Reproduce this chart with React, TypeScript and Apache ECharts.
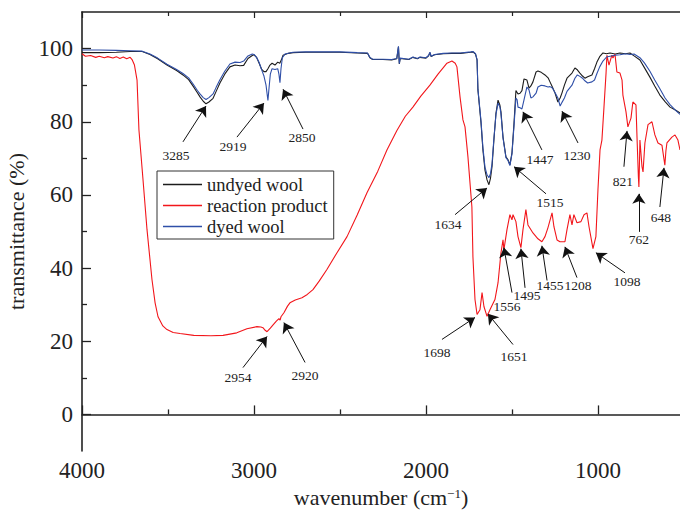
import React, { useEffect, useRef } from 'react';
import * as echarts from 'echarts';

// ---- data (wavenumber in cm^-1, transmittance in %) ----
const undyedWavenumber = [4000, 3900, 3800, 3720, 3650, 3605, 3560, 3506, 3450, 3413, 3380, 3355, 3330, 3314, 3295, 3279, 3262, 3238, 3220, 3198, 3170, 3140, 3110, 3081, 3060, 3035, 3010, 3000, 2985, 2970, 2955, 2942, 2930, 2919, 2907, 2895, 2878, 2862, 2850, 2840, 2831, 2800, 2773, 2700, 2600, 2500, 2400, 2340, 2326, 2310, 2250, 2200, 2170, 2160, 2155, 2150, 2100, 2076, 2050, 2035, 2000, 1985, 1977, 1970, 1950, 1900, 1850, 1800, 1740, 1727, 1712, 1703, 1698, 1680, 1669, 1657, 1645, 1634, 1625, 1616, 1605, 1593, 1581, 1570, 1564, 1552, 1535, 1523, 1512, 1500, 1488, 1477, 1470, 1465, 1453, 1442, 1430, 1413, 1401, 1390, 1378, 1360, 1349, 1330, 1308, 1290, 1279, 1265, 1250, 1233, 1220, 1209, 1195, 1180, 1151, 1134, 1120, 1105, 1090, 1076, 1060, 1035, 1020, 1006, 990, 971, 950, 930, 900, 872, 840, 814, 790, 756, 730, 698, 670, 640, 610, 581, 550, 523];
const undyedTransmittance = [98.9, 98.9, 99.0, 99.2, 99.2, 98.4, 97.2, 95.5, 94.0, 92.8, 91.5, 89.8, 88.0, 86.8, 85.6, 84.9, 85.4, 86.4, 88.3, 90.6, 93.0, 95.0, 95.5, 95.3, 95.4, 97.3, 98.1, 98.3, 97.6, 96.0, 94.3, 93.7, 93.7, 94.5, 95.5, 96.0, 95.5, 96.3, 96.0, 97.0, 98.2, 98.7, 98.9, 99.0, 99.0, 99.0, 98.8, 98.7, 97.5, 97.0, 97.0, 96.9, 97.2, 100.5, 95.8, 97.3, 97.0, 97.6, 97.2, 97.6, 97.4, 98.0, 98.9, 97.8, 98.3, 98.6, 98.7, 98.7, 99.0, 99.1, 98.5, 96.9, 88.7, 79.7, 72.3, 66.8, 64.1, 62.8, 64.5, 67.7, 75.0, 82.4, 85.9, 84.5, 82.7, 75.8, 70.4, 69.6, 68.2, 71.5, 79.7, 88.5, 88.0, 87.6, 87.8, 88.5, 91.7, 91.4, 89.2, 89.8, 90.9, 93.6, 93.9, 93.5, 92.8, 92.0, 90.9, 89.5, 87.9, 85.4, 86.5, 87.9, 90.0, 91.9, 93.3, 94.7, 94.2, 93.3, 92.5, 91.9, 92.3, 92.8, 94.5, 96.3, 97.8, 98.8, 98.6, 98.8, 98.5, 98.8, 98.6, 98.8, 98.0, 96.9, 94.8, 92.2, 89.8, 87.3, 85.5, 84.0, 83.2, 82.4];

const productWavenumber = [4000, 3980, 3950, 3920, 3900, 3870, 3850, 3820, 3800, 3780, 3760, 3740, 3720, 3709, 3695, 3680, 3669, 3645, 3622, 3593, 3575, 3558, 3530, 3506, 3470, 3430, 3350, 3250, 3180, 3100, 3041, 2983, 2960, 2948, 2935, 2924, 2905, 2889, 2870, 2855, 2848, 2843, 2826, 2805, 2791, 2760, 2721, 2690, 2657, 2620, 2576, 2520, 2459, 2400, 2343, 2280, 2227, 2169, 2120, 2076, 2030, 1977, 1930, 1878, 1849, 1830, 1820, 1802, 1785, 1773, 1756, 1733, 1727, 1715, 1703, 1686, 1674, 1663, 1645, 1628, 1599, 1581, 1564, 1552, 1547, 1529, 1512, 1500, 1494, 1477, 1465, 1448, 1436, 1419, 1407, 1378, 1349, 1326, 1308, 1291, 1267, 1256, 1238, 1221, 1192, 1180, 1163, 1151, 1140, 1122, 1099, 1081, 1064, 1052, 1035, 1029, 1012, 1000, 988, 977, 965, 953, 948, 936, 919, 913, 901, 890, 872, 860, 855, 837, 826, 808, 797, 779, 773, 765, 762, 759, 756, 744, 738, 727, 709, 686, 669, 651, 628, 620, 611, 605, 599, 570, 552, 535, 523];
const productTransmittance = [98.6, 97.9, 98.1, 97.6, 97.9, 97.5, 97.8, 97.4, 97.8, 97.3, 97.7, 97.2, 97.6, 97.0, 95.5, 91.4, 77.8, 64.0, 50.5, 36.8, 30.5, 26.7, 24.2, 23.2, 22.4, 22.1, 21.6, 21.5, 21.6, 22.3, 23.4, 24.0, 23.9, 23.7, 23.0, 22.6, 23.6, 24.5, 25.5, 26.2, 25.8, 26.7, 27.8, 29.6, 30.5, 31.3, 31.9, 32.8, 34.1, 36.5, 39.6, 44.0, 48.6, 54.5, 60.6, 66.5, 72.3, 77.6, 81.5, 84.0, 87.0, 90.0, 93.0, 96.0, 96.6, 96.0, 95.0, 86.8, 80.5, 78.6, 70.4, 56.7, 43.1, 31.4, 27.3, 28.6, 33.3, 29.5, 26.8, 28.6, 31.4, 36.0, 44.2, 47.7, 45.0, 50.5, 54.6, 53.2, 54.6, 52.7, 48.6, 45.6, 50.5, 56.0, 51.8, 49.6, 48.0, 47.2, 48.6, 51.0, 55.1, 51.3, 47.7, 47.2, 47.2, 50.5, 54.6, 51.8, 54.6, 52.4, 52.7, 54.6, 55.1, 51.3, 46.9, 45.3, 48.6, 61.4, 72.3, 75.0, 84.0, 93.3, 98.2, 95.5, 98.2, 97.4, 98.5, 93.6, 93.3, 91.4, 87.3, 82.7, 78.6, 81.0, 85.4, 84.6, 75.8, 65.0, 62.2, 68.0, 75.0, 67.7, 66.3, 74.2, 79.2, 80.0, 76.4, 74.2, 73.6, 71.0, 68.1, 72.0, 74.2, 75.8, 76.4, 75.0, 72.3];

const dyedWavenumber = [4000, 3900, 3800, 3720, 3650, 3605, 3560, 3506, 3450, 3413, 3380, 3355, 3330, 3314, 3295, 3279, 3262, 3238, 3220, 3198, 3170, 3140, 3110, 3081, 3060, 3035, 3010, 3000, 2985, 2970, 2960, 2950, 2942, 2930, 2919, 2912, 2905, 2895, 2878, 2862, 2855, 2849, 2843, 2835, 2820, 2773, 2700, 2600, 2500, 2400, 2340, 2326, 2310, 2250, 2200, 2170, 2160, 2155, 2150, 2100, 2076, 2050, 2035, 2000, 1985, 1977, 1970, 1950, 1900, 1850, 1800, 1740, 1727, 1712, 1703, 1698, 1680, 1669, 1657, 1645, 1634, 1625, 1616, 1605, 1593, 1581, 1570, 1564, 1552, 1535, 1523, 1512, 1500, 1488, 1477, 1470, 1465, 1453, 1442, 1430, 1413, 1401, 1390, 1378, 1360, 1349, 1330, 1308, 1290, 1279, 1265, 1250, 1233, 1220, 1209, 1195, 1180, 1151, 1134, 1120, 1105, 1090, 1076, 1060, 1035, 1020, 1006, 990, 971, 950, 930, 900, 872, 840, 814, 790, 756, 730, 698, 670, 640, 610, 581, 550, 523];
const dyedTransmittance = [99.6, 99.6, 99.5, 99.4, 99.3, 98.5, 97.4, 95.7, 94.3, 93.2, 92.0, 90.4, 88.6, 87.6, 86.6, 86.1, 86.6, 87.6, 89.4, 91.5, 93.8, 95.8, 96.3, 96.2, 96.6, 98.0, 98.5, 98.4, 97.6, 96.2, 94.8, 93.5, 92.5, 90.0, 85.8, 89.5, 93.0, 94.5, 94.3, 94.5, 93.0, 90.7, 94.5, 97.5, 98.5, 99.0, 99.1, 99.1, 99.1, 98.9, 98.8, 97.6, 97.1, 97.1, 97.0, 97.3, 100.6, 95.9, 97.4, 97.1, 97.7, 97.3, 97.7, 97.5, 98.1, 99.0, 97.9, 98.4, 98.7, 98.8, 98.8, 99.1, 99.2, 98.6, 97.0, 89.0, 80.2, 73.0, 67.6, 65.5, 64.7, 65.8, 68.5, 75.5, 82.0, 85.1, 84.0, 82.2, 75.5, 70.2, 69.4, 68.0, 71.2, 79.0, 86.5, 86.0, 84.0, 83.8, 83.5, 86.0, 89.5, 88.7, 86.5, 86.8, 87.8, 89.5, 90.0, 89.8, 89.5, 89.6, 89.2, 88.0, 86.5, 84.3, 85.3, 86.5, 88.3, 90.0, 91.9, 92.8, 92.4, 91.9, 91.2, 90.6, 90.9, 91.4, 93.2, 95.0, 96.6, 97.7, 97.9, 98.2, 98.3, 98.6, 98.4, 98.5, 97.5, 96.1, 93.8, 91.4, 89.0, 86.5, 84.7, 83.2, 82.0, 81.0];

const seriesNames = ['undyed wool', 'reaction product', 'dyed wool'];
const seriesColors = ['#1c1c1c', '#f2161b', '#2f4fa8'];

const xMajorTicks = [4000, 3000, 2000, 1000];
const xMinorTicks = [3500, 2500, 1500];
const yMajorTicks = [0, 20, 40, 60, 80, 100];
const yMinorTicks = [10, 30, 50, 70, 90];

// peak annotations: label, arrow tip, arrow tail, label centre (data coordinates)
const peakLabels = ['3285', '2919', '2850', '2954', '2920', '1634', '1515', '1447', '1230', '1556', '1495', '1455', '1208', '1098', '821', '762', '648', '1698', '1651'];
const peakTips = [[3279, 84.3], [2942, 85.1], [2831, 88.9], [2924, 21.3], [2826, 25.1], [1645, 61.9], [1488, 67.7], [1436, 82.7], [1209, 82.9], [1547, 45.6], [1448, 45.3], [1326, 46.1], [1192, 45.8], [1012, 44.2], [831, 77.5], [762, 60.3], [616, 67.4], [1715, 26.5], [1640, 27.5]];
const peakTails = [[3413, 74.5], [3099, 75.8], [2715, 78.0], [3064, 12.8], [2703, 14.2], [1831, 54.6], [1302, 60.3], [1326, 72.3], [1116, 74.2], [1500, 33.3], [1424, 34.6], [1296, 36.6], [1122, 37.4], [843, 38.7], [849, 67.7], [762, 49.9], [640, 56.7], [1907, 20.5], [1494, 19.1]];
const peakLabelPos = [[3453, 70.9], [3122, 73.1], [2721, 75.8], [3093, 10.1], [2703, 10.6], [1872, 51.8], [1279, 57.8], [1337, 69.6], [1122, 70.9], [1529, 29.5], [1413, 32.5], [1279, 35.2], [1116, 35.2], [831, 36.3], [855, 63.8], [762, 47.7], [634, 53.7], [1936, 16.9], [1488, 15.8]];

const X_MIN = 523;
const X_MAX = 4000;
const Y_MIN = -10;
const Y_MAX = 110;

const FONT = 'Liberation Serif';

function zip(xs: number[], ys: number[]) {
  return xs.map((x, i) => [x, ys[i]]);
}

export default function App() {
  const ref = useRef<HTMLDivElement>(null);

  useEffect(() => {
    if (!ref.current) return;
    const chart = echarts.init(ref.current, undefined, { renderer: 'svg' });
    const axisColor = '#222';

    const baseX = {
      type: 'value',
      min: X_MIN,
      max: X_MAX,
      inverse: true,
      gridIndex: 0,
      splitLine: { show: false },
    };
    const baseY = {
      type: 'value',
      min: Y_MIN,
      max: Y_MAX,
      gridIndex: 0,
      splitLine: { show: false },
    };

    const option: any = {
      animation: false,
      backgroundColor: '#fff',
      textStyle: { fontFamily: FONT, color: '#222' },
      grid: { left: 82, right: 0, top: 12, bottom: 59, containLabel: false, outerBoundsMode: 'none' },
      legend: {
        data: seriesNames,
        orient: 'vertical',
        left: 157,
        top: 171,
        icon: 'rect',
        itemWidth: 39,
        itemHeight: 1.3,
        itemGap: 0,
        borderColor: '#333',
        borderWidth: 1,
        padding: [3, 6, 2, 6],
        selectedMode: false,
        textStyle: { fontFamily: FONT, fontSize: 18.5, color: '#222', lineHeight: 21 },
      },
      xAxis: [
        {
          ...baseX,
          position: 'bottom',
          name: 'wavenumber (cm{sup|−1})',
          nameLocation: 'middle',
          nameGap: 28,
          nameTextStyle: {
            fontFamily: FONT,
            fontSize: 22,
            color: '#222',
            rich: {
              sup: { fontFamily: FONT, fontSize: 13, color: '#222', verticalAlign: 'top', lineHeight: 12 },
            },
          },
          axisLine: { show: true, lineStyle: { color: axisColor, width: 1.6 } },
          axisTick: { show: true, inside: true, length: 9, customValues: xMajorTicks, lineStyle: { color: axisColor, width: 1.3 } },
          axisLabel: {
            show: true,
            customValues: xMajorTicks,
            margin: 8,
            formatter: (v: number) => String(Math.round(v)),
            fontFamily: FONT,
            fontSize: 23,
            color: '#222',
          },
        },
        {
          ...baseX,
          position: 'bottom',
          axisLine: { show: false },
          axisTick: { show: true, inside: true, length: 5, customValues: xMinorTicks, lineStyle: { color: axisColor, width: 1.3 } },
          axisLabel: { show: false },
        },
        {
          ...baseX,
          position: 'top',
          axisLine: { show: true, lineStyle: { color: axisColor, width: 1.6 } },
          axisTick: { show: true, inside: true, length: 6, customValues: xMajorTicks, lineStyle: { color: axisColor, width: 1.2 } },
          axisLabel: { show: false },
        },
        {
          ...baseX,
          position: 'top',
          axisLine: { show: false },
          axisTick: { show: true, inside: true, length: 4, customValues: xMinorTicks, lineStyle: { color: axisColor, width: 1.2 } },
          axisLabel: { show: false },
        },
      ],
      yAxis: [
        {
          ...baseY,
          position: 'left',
          name: 'transmittance (%)',
          nameLocation: 'middle',
          nameGap: 46,
          nameTextStyle: { fontFamily: FONT, fontSize: 22, color: '#222' },
          axisLine: { show: true, lineStyle: { color: axisColor, width: 1.6 } },
          axisTick: { show: true, inside: true, length: 9, customValues: yMajorTicks, lineStyle: { color: axisColor, width: 1.3 } },
          axisLabel: {
            show: true,
            customValues: yMajorTicks,
            margin: 9,
            formatter: (v: number) => String(Math.round(v)),
            fontFamily: FONT,
            fontSize: 23,
            color: '#222',
          },
        },
        {
          ...baseY,
          position: 'left',
          axisLine: { show: false },
          axisTick: { show: true, inside: true, length: 5, customValues: yMinorTicks, lineStyle: { color: axisColor, width: 1.3 } },
          axisLabel: { show: false },
        },
      ],
      series: [
        {
          name: seriesNames[0],
          type: 'line',
          xAxisIndex: 0,
          yAxisIndex: 0,
          data: zip(undyedWavenumber, undyedTransmittance),
          showSymbol: false,
          symbol: 'none',
          lineStyle: { color: seriesColors[0], width: 1.1 },
          itemStyle: { color: seriesColors[0] },
          silent: true,
          z: 2,
        },
        {
          name: seriesNames[1],
          type: 'line',
          xAxisIndex: 0,
          yAxisIndex: 0,
          data: zip(productWavenumber, productTransmittance),
          showSymbol: false,
          symbol: 'none',
          lineStyle: { color: seriesColors[1], width: 1.1 },
          itemStyle: { color: seriesColors[1] },
          silent: true,
          z: 2,
        },
        {
          name: seriesNames[2],
          type: 'line',
          xAxisIndex: 0,
          yAxisIndex: 0,
          data: zip(dyedWavenumber, dyedTransmittance),
          showSymbol: false,
          symbol: 'none',
          lineStyle: { color: seriesColors[2], width: 1.1 },
          itemStyle: { color: seriesColors[2] },
          silent: true,
          z: 3,
        },
        {
          name: 'peaks',
          type: 'scatter',
          xAxisIndex: 0,
          yAxisIndex: 0,
          symbol: 'circle',
          symbolSize: 1,
          itemStyle: { color: 'rgba(0,0,0,0)' },
          silent: true,
          z: 4,
          data: peakLabels.map((t, i) => [peakLabelPos[i][0], peakLabelPos[i][1], t]),
          label: {
            show: true,
            position: 'inside',
            formatter: (p: any) => p.data[2],
            fontFamily: FONT,
            fontSize: 13.5,
            color: '#222',
            opacity: 1,
          },
          labelLayout: { hideOverlap: false },
          markLine: {
            silent: true,
            symbol: ['none', 'arrow'],
            symbolSize: 10,
            label: { show: false },
            lineStyle: { color: '#111', width: 1, type: 'solid' },
            emphasis: { disabled: true },
            data: peakLabels.map((_, i) => [
              { coord: peakTails[i] },
              { coord: peakTips[i] },
            ]),
          },
        },
      ],
    };

    chart.setOption(option);
    return () => chart.dispose();
  }, []);

  return (
    <div
      ref={ref}
      style={{ position: 'absolute', left: 0, top: 0, width: 680, height: 510, overflow: 'hidden', background: '#fff' }}
    />
  );
}
